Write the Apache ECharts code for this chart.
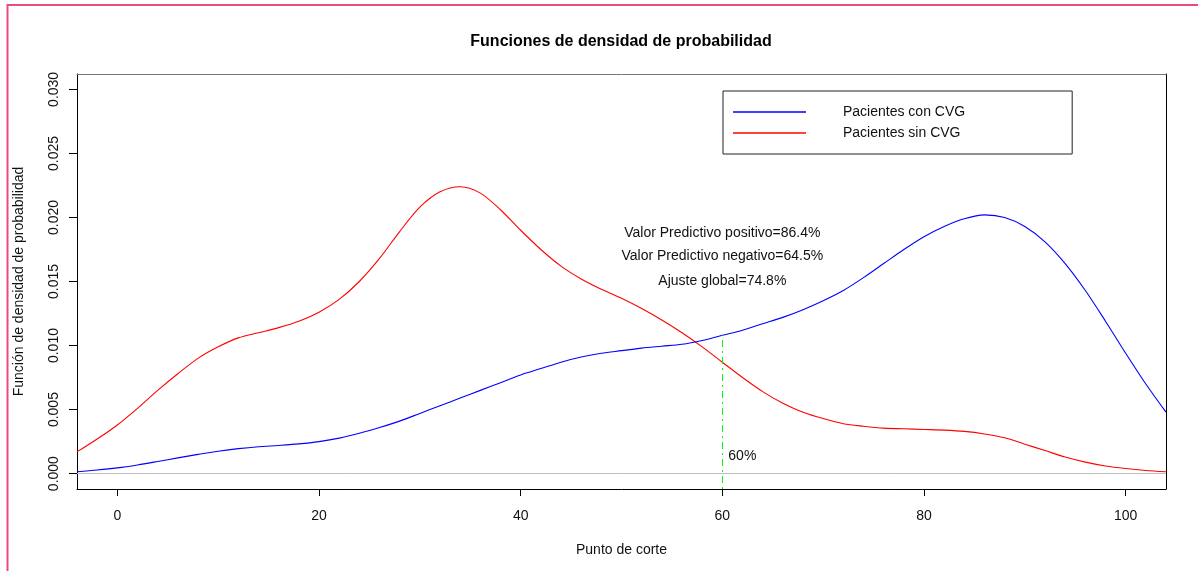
<!DOCTYPE html>
<html>
<head>
<meta charset="utf-8">
<script src="https://cdn.jsdelivr.net/npm/echarts@6/dist/echarts.min.js"></script>
<style>
  html, body { margin: 0; padding: 0; background: #fff; }
  #chart { width: 1198px; height: 571px; }
</style>
</head>
<body>
<div id="chart"></div>
<script>
// Cut-off points (x) at which both density curves are sampled
const cutPoints = [-4, -2, 0, 2, 4, 6, 8, 10, 12, 14, 16, 18, 20, 22, 24, 26, 28, 30, 32, 34,
  36, 38, 40, 42, 44, 46, 48, 50, 52, 54, 56, 58, 60, 62, 64, 66, 68, 70, 72, 74,
  76, 78, 80, 82, 84, 86, 88, 90, 92, 94, 96, 98, 100, 102, 104];

// Density, patients with CVG
const densityConCVG = [0.00015, 0.00028, 0.00045, 0.00068, 0.00095, 0.00123, 0.0015, 0.00175, 0.00195, 0.0021,
  0.0022, 0.00232, 0.0025, 0.00277, 0.00315, 0.0036, 0.0041, 0.0047, 0.0053, 0.0059,
  0.0065, 0.0071, 0.0077, 0.0082, 0.0087, 0.0091, 0.0094, 0.0096, 0.0098, 0.00995,
  0.0101, 0.0104, 0.0108, 0.0112, 0.0117, 0.0122, 0.0128, 0.0135, 0.0143, 0.0153,
  0.0164, 0.0175, 0.0185, 0.0193, 0.0199, 0.0202, 0.0200, 0.0193, 0.0181, 0.0164,
  0.0143, 0.0119, 0.0094, 0.0070, 0.0048];

// Density, patients without CVG
const densitySinCVG = [0.0017, 0.0027, 0.0038, 0.0051, 0.0065, 0.0078, 0.0090, 0.0099, 0.0106, 0.0110,
  0.0114, 0.0119, 0.0126, 0.0136, 0.0150, 0.0168, 0.0189, 0.0208, 0.0220, 0.0224,
  0.0219, 0.0206, 0.0190, 0.0175, 0.0162, 0.0152, 0.0144, 0.0137, 0.0129, 0.0120,
  0.0110, 0.0099, 0.0087, 0.0075, 0.0064, 0.0055, 0.0048, 0.0043, 0.0039, 0.0037,
  0.00355, 0.0035, 0.00345, 0.0034, 0.0033, 0.0031, 0.0028, 0.0023, 0.0018, 0.0013,
  0.0009, 0.0006, 0.0004, 0.00025, 0.00015];

const xTicks = [0, 20, 40, 60, 80, 100];
const yTicks = [0, 0.005, 0.01, 0.015, 0.02, 0.025, 0.03];
const yTickLabels = ['0.000', '0.005', '0.010', '0.015', '0.020', '0.025', '0.030'];

const cutOff = 60;            // chosen cut-off point
const cutOffDensity = 0.0108; // blue density at the cut-off
const statTexts = [
  { text: 'Valor Predictivo positivo=86.4%', y: 0.0188 },
  { text: 'Valor Predictivo negativo=64.5%', y: 0.0170 },
  { text: 'Ajuste global=74.8%', y: 0.0150 }
];

const X_MIN = -4, X_MAX = 104, Y_MIN = -0.0012, Y_MAX = 0.0312;
const FONT = '"Liberation Sans", Arial, Helvetica, sans-serif';

const chart = echarts.init(document.getElementById('chart'), null, { renderer: 'canvas' });

const option = {
  animation: false,
  backgroundColor: '#fff',
  textStyle: { fontFamily: FONT },
  title: {
    text: 'Funciones de densidad de probabilidad',
    left: 616,
    textAlign: 'center',
    top: 29,
    textStyle: { fontFamily: FONT, fontSize: 16, fontWeight: 'bold', color: '#000' }
  },
  graphic: [{
    type: 'rect',
    silent: true,
    shape: { x: 7.5, y: 5, width: 1400, height: 800 },
    style: { fill: null, stroke: '#ea4a7e', lineWidth: 2 }
  }],
  legend: {
    orient: 'vertical',
    left: 723,
    top: 91,
    padding: [13, 107, 13, 10],
    itemGap: 5,
    itemWidth: 73,
    itemHeight: 1.5,
    icon: 'rect',
    borderColor: '#222',
    borderWidth: 1,
    backgroundColor: '#fff',
    textStyle: { fontFamily: FONT, fontSize: 14, color: '#111', padding: [0, 0, 0, 32], lineHeight: 16 },
    data: ['Pacientes con CVG', 'Pacientes sin CVG']
  },
  grid: { left: 77, right: 32, top: 74, bottom: 82, containLabel: false },
  xAxis: [{
    type: 'value',
    min: X_MIN, max: X_MAX,
    position: 'bottom',
    name: 'Punto de corte',
    nameLocation: 'middle',
    nameGap: 54,
    nameTextStyle: { fontFamily: FONT, fontSize: 14, color: '#111' },
    axisLine: { show: true, onZero: false, lineStyle: { color: '#000', width: 1 } },
    axisTick: { show: true, customValues: xTicks, length: 7, lineStyle: { color: '#000' } },
    axisLabel: { customValues: xTicks, margin: 20, fontSize: 14, color: '#111', fontFamily: FONT },
    splitLine: { show: false }
  }, {
    type: 'value',
    min: X_MIN, max: X_MAX,
    position: 'top',
    axisLine: { show: true, onZero: false, lineStyle: { color: '#777', width: 1 } },
    axisTick: { show: false },
    axisLabel: { show: false },
    splitLine: { show: false }
  }],
  yAxis: [{
    type: 'value',
    min: Y_MIN, max: Y_MAX,
    position: 'left',
    name: 'Función de densidad de probabilidad',
    nameLocation: 'middle',
    nameGap: 51,
    nameRotate: 90,
    nameTextStyle: { fontFamily: FONT, fontSize: 14, color: '#111' },
    axisLine: { show: true, onZero: false, lineStyle: { color: '#000', width: 1 } },
    axisTick: { show: true, customValues: yTicks, length: 8, lineStyle: { color: '#000' } },
    axisLabel: {
      customValues: yTicks,
      rotate: 90,
      margin: 16,
      fontSize: 14,
      color: '#111',
      fontFamily: FONT,
      formatter: v => {
        const i = yTicks.findIndex(t => Math.abs(t - v) < 1e-9);
        return i >= 0 ? yTickLabels[i] : '';
      }
    },
    splitLine: { show: false }
  }, {
    type: 'value',
    min: Y_MIN, max: Y_MAX,
    position: 'right',
    axisLine: { show: true, onZero: false, lineStyle: { color: '#000', width: 1 } },
    axisTick: { show: false },
    axisLabel: { show: false },
    splitLine: { show: false }
  }],
  series: [{
    name: 'Pacientes sin CVG',
    type: 'line',
    xAxisIndex: 0, yAxisIndex: 0,
    data: cutPoints.map((x, i) => [x, densitySinCVG[i]]),
    smooth: 0.3,
    symbol: 'none',
    lineStyle: { color: '#ff0000', width: 1.1 },
    itemStyle: { color: '#ff0000' },
    z: 3,
    markLine: {
      silent: true,
      symbol: 'none',
      label: { show: false },
      lineStyle: { color: '#bebebe', type: 'solid', width: 1 },
      data: [{ yAxis: 0 }]
    },
    markPoint: {
      silent: true,
      symbol: 'rect',
      symbolSize: 0,
      label: {
        show: true,
        position: 'inside',
        fontFamily: FONT,
        fontSize: 14,
        color: '#111',
        formatter: p => p.name
      },
      data: statTexts.map(s => ({ name: s.text, coord: [cutOff, s.y] })).concat([{
        name: '60%',
        coord: [cutOff, 0.0014],
        label: { position: 'right', distance: 6 }
      }])
    }
  }, {
    name: 'Pacientes con CVG',
    type: 'line',
    xAxisIndex: 0, yAxisIndex: 0,
    data: cutPoints.map((x, i) => [x, densityConCVG[i]]),
    smooth: 0.3,
    symbol: 'none',
    lineStyle: { color: '#0000ff', width: 1.1 },
    itemStyle: { color: '#0000ff' },
    z: 4,
    markLine: {
      silent: true,
      symbol: 'none',
      label: { show: false },
      lineStyle: { color: '#00ff00', type: [2, 4, 7, 4], width: 1 },
      data: [[{ coord: [cutOff, Y_MIN] }, { coord: [cutOff, cutOffDensity] }]]
    }
  }]
};

chart.setOption(option);
</script>
</body>
</html>
